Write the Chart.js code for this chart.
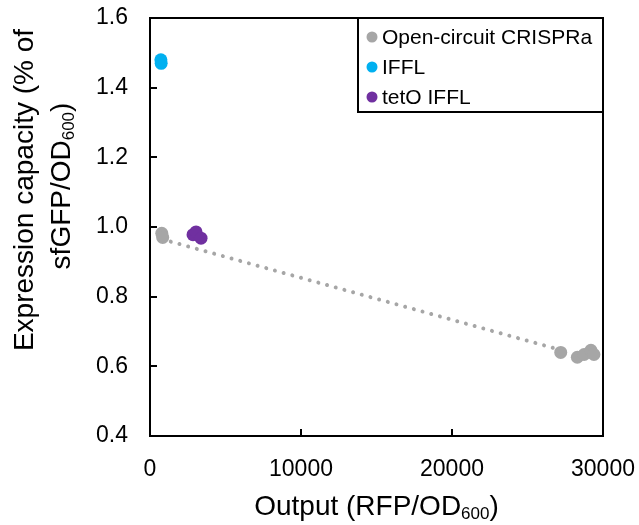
<!DOCTYPE html>
<html>
<head>
<meta charset="utf-8">
<script src="https://cdn.jsdelivr.net/npm/chart.js@4"></script>
<style>
  body { margin: 0; background: #fff; }
  #wrap { width: 639px; height: 525px; position: relative; }
</style>
</head>
<body>
<div id="wrap"><canvas id="chart"></canvas></div>
<script>
// data
const crisprX = [780, 840, 27200, 28300, 28750, 29200, 29400];
const crisprY = [0.982, 0.970, 0.640, 0.626, 0.634, 0.646, 0.634];
const ifflX = [720, 740];
const ifflY = [1.480, 1.470];
const tetoX = [2850, 3050, 3380];
const tetoY = [0.978, 0.986, 0.968];
const trendX = [800, 27200];
const trendY = [0.965, 0.647];

const xTicks = [0, 10000, 20000, 30000];
const yTicks = [0.4, 0.6, 0.8, 1.0, 1.2, 1.4, 1.6];

const FONT = '"Liberation Sans", Arial, Helvetica, sans-serif';
const GREY = '#A6A6A6', BLUE = '#00B0F0', PURPLE = '#7030A0';

const pts = (xs, ys) => xs.map((x, i) => ({ x: x, y: ys[i] }));

// draws text with subscript parts
function richText(ctx, parts, x, y, align, size) {
  const subSize = Math.round(size * 0.6);
  let w = 0;
  parts.forEach(p => {
    ctx.font = (p.sub ? subSize : size) + 'px ' + FONT;
    p.w = ctx.measureText(p.t).width;
    w += p.w;
  });
  let cx = align === 'center' ? x - w / 2 : align === 'right' ? x - w : x;
  ctx.textAlign = 'left';
  ctx.textBaseline = 'middle';
  parts.forEach(p => {
    ctx.font = (p.sub ? subSize : size) + 'px ' + FONT;
    ctx.fillText(p.t, cx, p.sub ? y + size * 0.25 : y);
    cx += p.w;
  });
}

const decor = {
  id: 'decor',
  afterDraw(chart) {
    const ctx = chart.ctx;
    const a = chart.chartArea;
    const xs = chart.scales.x, ys = chart.scales.y;
    ctx.save();
    ctx.strokeStyle = '#000';
    ctx.lineWidth = 2;
    ctx.strokeRect(a.left, a.top, a.right - a.left, a.bottom - a.top);
    // inner tick marks
    ctx.beginPath();
    yTicks.forEach(v => {
      const py = Math.round(ys.getPixelForValue(v));
      ctx.moveTo(a.left, py); ctx.lineTo(a.left + 7, py);
    });
    xTicks.forEach(v => {
      const px = Math.round(xs.getPixelForValue(v));
      ctx.moveTo(px, a.bottom); ctx.lineTo(px, a.bottom - 7);
    });
    ctx.stroke();

    // legend box
    const lx = 358, ly = a.top, lw = a.right - lx, lh = 94;
    ctx.fillStyle = '#fff';
    ctx.fillRect(lx, ly, lw, lh);
    ctx.strokeRect(lx, ly, lw, lh);
    const items = chart.data.datasets.filter(d => !d.hideInLegend);
    items.forEach((d, i) => {
      const yy = ly + 19 + i * 30;
      ctx.fillStyle = d.backgroundColor;
      ctx.beginPath();
      ctx.arc(372, yy, 5.5, 0, Math.PI * 2);
      ctx.fill();
      ctx.fillStyle = '#000';
      ctx.font = '21px ' + FONT;
      ctx.textAlign = 'left';
      ctx.textBaseline = 'middle';
      ctx.fillText(d.label, 382, yy + 1);
    });

    // axis titles
    ctx.fillStyle = '#000';
    richText(ctx, [{ t: 'Output (RFP/OD' }, { t: '600', sub: true }, { t: ')' }],
      (a.left + a.right) / 2, 507, 'center', 28);
    ctx.save();
    ctx.translate(25, 190);
    ctx.rotate(-Math.PI / 2);
    richText(ctx, [{ t: 'Expression capacity (% of' }], 0, 0, 'center', 28);
    ctx.restore();
    ctx.save();
    ctx.translate(62, 186);
    ctx.rotate(-Math.PI / 2);
    richText(ctx, [{ t: 'sfGFP/OD' }, { t: '600', sub: true }, { t: ')' }], 0, 0, 'center', 28);
    ctx.restore();
    ctx.restore();
  }
};

new Chart(document.getElementById('chart'), {
  type: 'scatter',
  data: {
    datasets: [
      {
        label: 'trend',
        hideInLegend: true,
        type: 'line',
        data: pts(trendX, trendY),
        borderColor: GREY,
        backgroundColor: GREY,
        borderWidth: 4,
        borderDash: [0.01, 9],
        borderCapStyle: 'round',
        pointRadius: 0,
        fill: false,
        order: 5
      },
      {
        label: 'Open-circuit CRISPRa',
        data: pts(crisprX, crisprY),
        backgroundColor: GREY,
        borderWidth: 0,
        pointRadius: 6.5,
        order: 1
      },
      {
        label: 'IFFL',
        data: pts(ifflX, ifflY),
        backgroundColor: BLUE,
        borderWidth: 0,
        pointRadius: 6.5,
        order: 1
      },
      {
        label: 'tetO IFFL',
        data: pts(tetoX, tetoY),
        backgroundColor: PURPLE,
        borderWidth: 0,
        pointRadius: 6.5,
        order: 1
      }
    ]
  },
  options: {
    responsive: true,
    maintainAspectRatio: false,
    animation: false,
    layout: { padding: { top: 18, right: 36, left: 0, bottom: 0 } },
    plugins: { legend: { display: false }, tooltip: { enabled: false } },
    scales: {
      x: {
        type: 'linear',
        min: 0, max: 30000,
        afterBuildTicks: s => { s.ticks = xTicks.map(v => ({ value: v })); },
        afterFit: s => { s.height = 89; s.paddingLeft = 0; s.paddingRight = 0; },
        grid: { display: false, drawTicks: false },
        border: { display: false },
        ticks: {
          padding: 20,
          color: '#000',
          font: { family: FONT, size: 23 },
          maxRotation: 0,
          callback: v => String(v)
        }
      },
      y: {
        type: 'linear',
        min: 0.4, max: 1.6,
        afterBuildTicks: s => { s.ticks = yTicks.map(v => ({ value: v })); },
        afterFit: s => { s.width = 150; s.paddingTop = 0; s.paddingBottom = 0; },
        grid: { display: false, drawTicks: false },
        border: { display: false },
        ticks: {
          padding: 22,
          color: '#000',
          font: { family: FONT, size: 23 },
          callback: v => Number(v).toFixed(1)
        }
      }
    }
  },
  plugins: [decor]
});
</script>
</body>
</html>
